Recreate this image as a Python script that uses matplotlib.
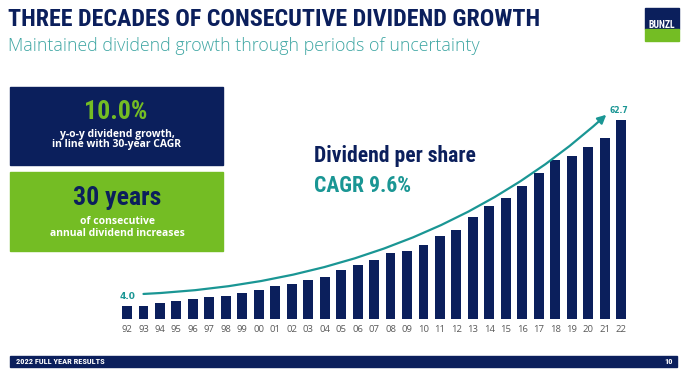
import matplotlib
matplotlib.use("Agg")
import matplotlib.pyplot as plt
from matplotlib.patches import Rectangle, FancyArrowPatch
from matplotlib.path import Path

# Dividend per share (pence), 1992-2022
years = ['92', '93', '94', '95', '96', '97', '98', '99', '00', '01', '02',
         '03', '04', '05', '06', '07', '08', '09', '10', '11', '12', '13',
         '14', '15', '16', '17', '18', '19', '20', '21', '22']
dividends = [4.0, 4.1, 5.0, 5.8, 6.3, 6.8, 7.3, 8.3, 9.3, 10.4, 11.1,
             12.2, 13.3, 15.6, 16.9, 18.7, 20.7, 21.5, 23.3, 26.3, 28.2, 32.3,
             35.5, 38.1, 42.0, 46.0, 50.2, 51.3, 54.1, 57.0, 62.7]

# trend arrow anchors (bar index, value): start, bezier control, end
arrow_start = (1.0, 7.9)
arrow_ctrl = (18.0, 12.0)
arrow_end = (29.1, 64.4)

NAVY = '#0b1f5c'
GREEN = '#74bd24'
TEAL = '#1a9694'
TEAL_LIGHT = '#3ea6a3'
GREY = '#5a5a5a'

COND = ['Roboto Condensed', 'Liberation Sans Narrow', 'Roboto']
SANS = ['Open Sans', 'DejaVu Sans']

W, H = 690, 374
fig = plt.figure(figsize=(W / 100, H / 100), dpi=100)


def fx(px):
    return px / W


def fy(py):
    return 1 - py / H


def box(x0, y0, w, h, color):
    # rectangle in pixel coords (top-left origin)
    fig.patches.append(Rectangle((fx(x0), fy(y0 + h)), fx(w), h / H, color=color,
                                 transform=fig.transFigure, figure=fig))


# title + subtitle
fig.text(fx(8), fy(20), 'THREE DECADES OF CONSECUTIVE DIVIDEND GROWTH',
         color=NAVY, fontsize=17.3, fontweight='bold', family=COND, va='center')
fig.text(fx(8), fy(46), 'Maintained dividend growth through periods of uncertainty',
         color=TEAL_LIGHT, fontsize=12.8, family=SANS, fontweight='light', va='center')

# logo
box(645, 8, 34, 21, NAVY)
box(645, 29, 34, 12, GREEN)
fig.text(fx(662), fy(24.5), 'BUNZL', color='white', fontsize=7, fontweight='bold',
         family=COND, ha='center', va='center')

# left info boxes
box(10, 87, 213, 78, NAVY)
box(10, 172, 213, 79, GREEN)
fig.text(fx(116), fy(112), '10.0%', color=GREEN, fontsize=18.5, fontweight='bold',
         family=COND, ha='center', va='center')
fig.text(fx(117), fy(134), 'y-o-y dividend growth,', color='white', fontsize=7.5,
         fontweight='bold', family=SANS, ha='center', va='center')
fig.text(fx(117), fy(145), 'in line with 30-year CAGR', color='white', fontsize=7.5,
         fontweight='bold', family=SANS, ha='center', va='center')
fig.text(fx(117), fy(198), '30 years', color=NAVY, fontsize=18.5, fontweight='bold',
         family=COND, ha='center', va='center')
fig.text(fx(117), fy(221), 'of consecutive', color='white', fontsize=7.5,
         fontweight='bold', family=SANS, ha='center', va='center')
fig.text(fx(117), fy(234), 'annual dividend increases', color='white', fontsize=7.5,
         fontweight='bold', family=SANS, ha='center', va='center')

# chart heading
fig.text(fx(314), fy(156), 'Dividend per share', color=NAVY, fontsize=15.6,
         fontweight='bold', family=COND, va='center')
fig.text(fx(314), fy(186), 'CAGR 9.6%', color=TEAL, fontsize=15.6,
         fontweight='bold', family=COND, va='center')

# bar chart
step = 16.47
left_px = 127 - 0.5 * step
ax = fig.add_axes([fx(left_px), 55 / H, fx(31 * step), 222 / H])
x = list(range(len(years)))
ax.bar(x, dividends, width=0.6, color=NAVY)
ax.set_xlim(-0.5, len(years) - 0.5)
ax.set_ylim(0, 70)
ax.set_xticks(x)
ax.set_xticklabels(years, color=GREY, fontsize=6.8, family=SANS)
ax.tick_params(axis='x', length=0, pad=4)
ax.set_yticks([])
for s in ax.spines.values():
    s.set_visible(False)
ax.patch.set_alpha(0)

ax.annotate(f'{dividends[0]:.1f}', xy=(0, dividends[0]), xytext=(0, 4),
            textcoords='offset points', ha='center', va='bottom',
            color=TEAL, fontsize=6.5, fontweight='bold')
ax.annotate(f'{dividends[-1]:.1f}', xy=(len(years) - 1, dividends[-1]), xytext=(-1.5, 4),
            textcoords='offset points', ha='center', va='bottom',
            color=TEAL, fontsize=5.5, fontweight='bold')

trend = Path([arrow_start, arrow_ctrl, arrow_end],
             [Path.MOVETO, Path.CURVE3, Path.CURVE3])
ax.add_patch(FancyArrowPatch(path=trend, arrowstyle='-|>,head_length=5,head_width=2.5',
                             color=TEAL, lw=1.6, clip_on=False))

# footer band
box(10, 356, 667, 11, NAVY)
fig.text(fx(16), fy(361.5), '2022 FULL YEAR RESULTS', color='white', fontsize=6,
         fontweight='bold', family=COND, va='center')
fig.text(fx(673), fy(361.5), '10', color='white', fontsize=6,
         fontweight='bold', family=COND, va='center', ha='right')

fig.savefig('out.png', dpi=100)
